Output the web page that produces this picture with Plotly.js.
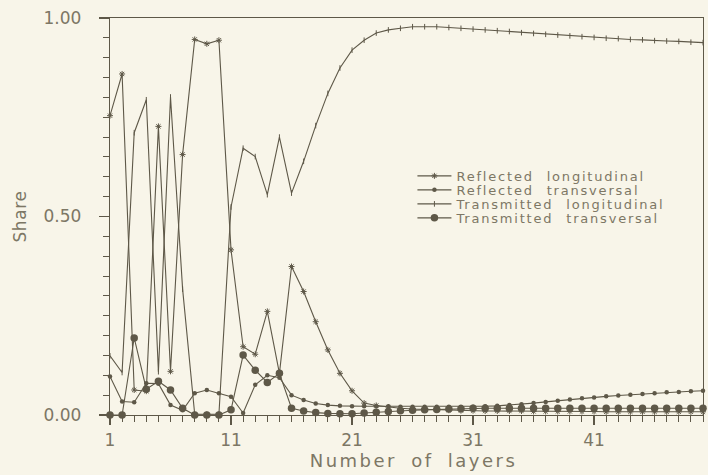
<!DOCTYPE html>
<html>
<head>
<meta charset="utf-8">
<script src="https://cdn.plot.ly/plotly-3.0.1.min.js"></script>
<style>
  html, body { margin: 0; padding: 0; background: #f8f5e9; }
  #chart { width: 708px; height: 475px; }
  /* wide, plotter-style lettering */
  #chart .legendtext { letter-spacing: 1.8px; word-spacing: 7px; }
  #chart .xtitle { letter-spacing: 2.5px; word-spacing: 6px; transform: translateX(7px); }
  #chart .ytitle { letter-spacing: 0.6px; }
</style>
</head>
<body>
<div id="chart"></div>
<script>
// Number of layers in the stack
const layers = [1, 2, 3, 4, 5, 6, 7, 8, 9, 10,
  11, 12, 13, 14, 15, 16, 17, 18, 19, 20,
  21, 22, 23, 24, 25, 26, 27, 28, 29, 30,
  31, 32, 33, 34, 35, 36, 37, 38, 39, 40,
  41, 42, 43, 44, 45, 46, 47, 48, 49, 50];

// Energy shares per wave type
const reflectedLongitudinal = [0.754, 0.859, 0.063, 0.060, 0.727, 0.110, 0.656, 0.946, 0.935, 0.944,
  0.416, 0.172, 0.153, 0.261, 0.105, 0.374, 0.311, 0.235, 0.164, 0.105,
  0.061, 0.030, 0.024, 0.020, 0.017, 0.015, 0.014, 0.013, 0.012, 0.011,
  0.011, 0.010, 0.010, 0.010, 0.010, 0.009, 0.009, 0.009, 0.009, 0.009,
  0.009, 0.008, 0.008, 0.008, 0.008, 0.008, 0.008, 0.008, 0.008, 0.008];

const reflectedTransversal = [0.097, 0.034, 0.032, 0.080, 0.079, 0.025, 0.012, 0.055, 0.063, 0.055,
  0.046, 0.005, 0.076, 0.100, 0.094, 0.050, 0.038, 0.029, 0.025, 0.023,
  0.022, 0.022, 0.022, 0.022, 0.021, 0.021, 0.021, 0.021, 0.021, 0.021,
  0.021, 0.022, 0.023, 0.025, 0.027, 0.030, 0.033, 0.036, 0.039, 0.042,
  0.044, 0.047, 0.049, 0.051, 0.053, 0.055, 0.057, 0.058, 0.060, 0.061];

const transmittedLongitudinal = [0.149, 0.107, 0.711, 0.794, 0.109, 0.801, 0.317, 0.002, 0.002, 0.002,
  0.524, 0.672, 0.651, 0.555, 0.700, 0.559, 0.639, 0.729, 0.810, 0.874,
  0.919, 0.944, 0.962, 0.970, 0.974, 0.978, 0.978, 0.978, 0.976, 0.974,
  0.972, 0.970, 0.968, 0.966, 0.963, 0.961, 0.959, 0.957, 0.955, 0.953,
  0.951, 0.949, 0.948, 0.946, 0.945, 0.943, 0.942, 0.941, 0.939, 0.938];

const transmittedTransversal = [0.000, 0.000, 0.194, 0.065, 0.085, 0.063, 0.017, 0.000, 0.000, 0.000,
  0.013, 0.151, 0.113, 0.082, 0.105, 0.017, 0.010, 0.006, 0.004, 0.003,
  0.003, 0.005, 0.007, 0.009, 0.011, 0.012, 0.013, 0.014, 0.015, 0.016,
  0.017, 0.017, 0.017, 0.017, 0.017, 0.017, 0.017, 0.017, 0.017, 0.017,
  0.017, 0.017, 0.017, 0.017, 0.017, 0.017, 0.017, 0.017, 0.017, 0.017];

const seriesNames = ['Reflected longitudinal', 'Reflected transversal',
  'Transmitted longitudinal', 'Transmitted transversal'];

const ink = '#5e5848';
const textInk = '#7d7765';
const FONT = 'DejaVu Sans, Noto Sans, sans-serif';
const LEGEND_ROW = 14;

function trace(name, values, symbol, size, lineWidth) {
  return {
    type: 'scatter',
    mode: 'lines+markers',
    name: name,
    x: layers,
    y: values,
    cliponaxis: false,
    line: { color: ink, width: 1.1 },
    marker: { symbol: symbol, size: size, color: ink, line: { color: ink, width: lineWidth } }
  };
}

const data = [
  trace(seriesNames[0], reflectedLongitudinal, 'asterisk-open', 5, 1),
  trace(seriesNames[1], reflectedTransversal, 'circle', 4.5, 0),
  trace(seriesNames[2], transmittedLongitudinal, 'line-ns-open', 4, 1),
  trace(seriesNames[3], transmittedTransversal, 'circle', 7.5, 0)
];

const layout = {
  width: 708,
  height: 475,
  margin: { l: 110, r: 5, t: 18, b: 60 },
  paper_bgcolor: '#f8f5e9',
  plot_bgcolor: '#f8f5e9',
  font: { family: FONT, color: textInk, size: 17 },
  showlegend: true,
  legend: {
    x: 0.51, xanchor: 'left',
    y: 0.64, yanchor: 'top',
    bgcolor: 'rgba(0,0,0,0)',
    font: { family: FONT, size: 13, color: textInk },
    tracegroupgap: 0,
    itemwidth: 34
  },
  xaxis: {
    range: [1, 50],
    tickvals: [1, 11, 21, 31, 41],
    ticktext: ['1', '11', '21', '31', '41'],
    ticks: 'outside', ticklen: 9, tickwidth: 1.2, tickcolor: ink,
    minor: { dtick: 1, tick0: 1, ticks: 'outside', ticklen: 6, tickwidth: 1, tickcolor: ink, showgrid: false },
    showline: true, linecolor: ink, linewidth: 1.3, mirror: true,
    showgrid: false, zeroline: false,
    tickfont: { family: FONT, size: 17, color: textInk },
    title: { text: 'Number of layers', font: { family: FONT, size: 18, color: textInk }, standoff: 5 }
  },
  yaxis: {
    range: [0, 1],
    tickvals: [0, 0.5, 1],
    ticktext: ['0.00', '0.50', '1.00'],
    ticks: 'outside', ticklen: 10, tickwidth: 1.2, tickcolor: ink,
    minor: { dtick: 0.05, tick0: 0, ticks: 'outside', ticklen: 6, tickwidth: 1, tickcolor: ink, showgrid: false },
    showline: true, linecolor: ink, linewidth: 1.3, mirror: true,
    showgrid: false, zeroline: false,
    ticklabelstandoff: 14,
    tickfont: { family: FONT, size: 17, color: textInk },
    title: { text: 'Share', font: { family: FONT, size: 17, color: textInk }, standoff: 12 }
  }
};

const gd = document.getElementById('chart');

// Pack the legend rows closer together than Plotly's default row height,
// and let the letter-spaced labels run past the measured legend box.
function tightenLegend() {
  gd.querySelectorAll('.legend [clip-path]').forEach(el => el.removeAttribute('clip-path'));
  const rows = gd.querySelectorAll('.legend .traces');
  if (!rows.length) return;
  const m = /translate\(\s*([-\d.]+)[ ,]+([-\d.]+)\s*\)/.exec(rows[0].getAttribute('transform') || '');
  const tx = m ? parseFloat(m[1]) : 0;
  const ty = m ? parseFloat(m[2]) : 0;
  rows.forEach((g, i) => {
    g.setAttribute('transform', 'translate(' + tx + ',' + (ty + i * LEGEND_ROW) + ')');
  });
}

Plotly.newPlot(gd, data, layout, { staticPlot: true, displayModeBar: false }).then(tightenLegend);
</script>
</body>
</html>
